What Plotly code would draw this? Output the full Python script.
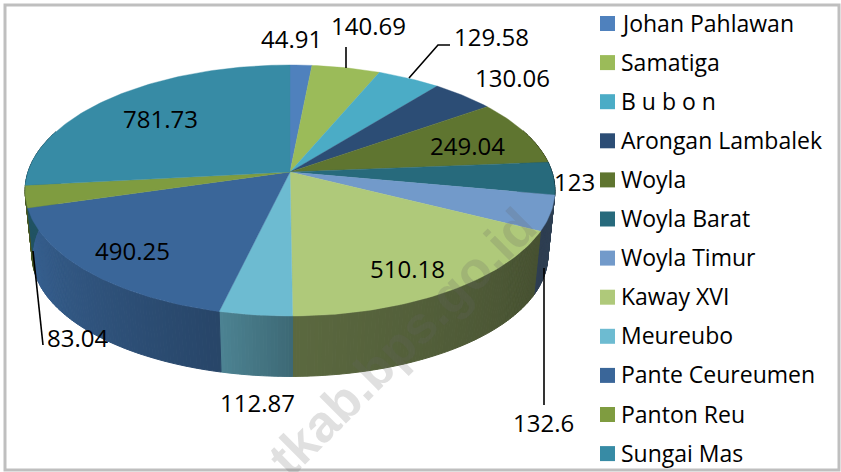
import math
import plotly.graph_objects as go

categories = ["Johan Pahlawan", "Samatiga", "B u b o n", "Arongan Lambalek", "Woyla", "Woyla Barat",
              "Woyla Timur", "Kaway XVI", "Meureubo", "Pante Ceureumen", "Panton Reu", "Sungai Mas"]
values = [44.91, 140.69, 129.58, 130.06, 249.04, 123, 132.6, 510.18, 112.87, 490.25, 83.04, 781.73]
value_labels = ["44.91", "140.69", "129.58", "130.06", "249.04", "123", "132.6", "510.18", "112.87", "490.25", "83.04", "781.73"]
colors = ["#4F81BD", "#9BBB59", "#4BACC6", "#2C4D75", "#5F7530", "#276A7C",
          "#729ACA", "#AFC97A", "#6DBBD1", "#3A6699", "#7F9C40", "#378BA5"]

# side-wall shading per slice: brightness factor at slice start and end (clockwise)
wall_shade = [(.5, .5), (.5, .5), (.5, .5), (.5, .5), (.5, .5), (.45, .45),
              (.42, .40), (.40, .52), (.56, .70), (.68, .95), (.55, .55), (.6, .6)]

FONT = "Open Sans"
CX = 290
TOP = dict(A=262, B=122.8, y0=172)
BOTTOM = dict(A=255, B=118, y0=238)
K = 0.1475


def ring(theta, r):
    s = 1 / (1 + K * math.cos(theta))
    return CX + r["A"] * math.sin(theta) * s, r["y0"] - r["B"] * math.cos(theta) * s


def scale(hex_color, f):
    c = [int(hex_color[i:i + 2], 16) for i in (1, 3, 5)]
    return "rgb(%d,%d,%d)" % tuple(round(v * f) for v in c)


total = sum(values)
fig = go.Figure()
spans = []
cum = 0.0
for v in values:
    spans.append((cum / total * 2 * math.pi, (cum + v) / total * 2 * math.pi))
    cum += v

# side walls, drawn as narrow bands so the shading can run along each slice
for (a0, a1), col, (f0, f1) in zip(spans, colors, wall_shade):
    bands = max(2, int((a1 - a0) / 0.012))
    for b in range(bands):
        t0 = a0 + (a1 - a0) * b / bands
        t1 = a0 + (a1 - a0) * (b + 1) / bands
        if math.cos((t0 + t1) / 2) > 0.35:
            continue  # hidden behind the top face
        steps = [t0, t1]
        pts = [ring(t, TOP) for t in steps] + [ring(t, BOTTOM) for t in reversed(steps)]
        c = scale(col, f0 + (f1 - f0) * (b + .5) / bands)
        fig.add_trace(go.Scatter(x=[p[0] for p in pts] + [pts[0][0]], y=[p[1] for p in pts] + [pts[0][1]],
                                 mode="lines", fill="toself", fillcolor=c, line=dict(color=c, width=1),
                                 hoverinfo="skip", showlegend=False))

# top faces
for (a0, a1), col, name in zip(spans, colors, categories):
    n = max(4, int((a1 - a0) / 0.02))
    pts = [(CX, TOP["y0"])] + [ring(a0 + (a1 - a0) * i / n, TOP) for i in range(n + 1)] + [(CX, TOP["y0"])]
    fig.add_trace(go.Scatter(x=[p[0] for p in pts], y=[p[1] for p in pts], mode="lines", fill="toself",
                             fillcolor=col, line=dict(color=col, width=0.4), name=name, showlegend=False))

label_pos = [(291, 38), (368, 25), (491, 36), (512, 77), (467, 145), (574, 181),
             (543, 422), (407, 268), (257, 402), (132, 250), (77, 337), (160, 118)]
annotations = [dict(x=x, y=y, text=t, showarrow=False, xref="x", yref="y", xanchor="center", yanchor="middle",
                    font=dict(family=FONT, size=24, color="#000000"))
               for t, (x, y) in zip(value_labels, label_pos)]

# legend: swatch markers with text beside them
LEG_X, LEG_TEXT_X, LEG_Y0, LEG_DY = 607.5, 619, 23.5, 39.1
for i, (name, col) in enumerate(zip(categories, colors)):
    fig.add_trace(go.Scatter(x=[LEG_X], y=[LEG_Y0 + i * LEG_DY], mode="markers", name=name, showlegend=False,
                             marker=dict(symbol="square", size=15, color=col, line=dict(width=0))))
    annotations.append(dict(x=LEG_TEXT_X, y=LEG_Y0 + i * LEG_DY - 1, text=name, showarrow=False, xref="x", yref="y",
                            xanchor="left", yanchor="middle", font=dict(family=FONT, size=23, color="#000000")))

annotations.append(dict(x=402, y=342, text="<b>tkab.bps.go.id</b>", textangle=-45, showarrow=False, xref="x", yref="y",
                        font=dict(family="Liberation Sans", size=52, color="rgba(100,100,100,0.2)")))

leaders = [[(346, 47), (346, 68)], [(409, 78), (438, 45), (450, 45)], [(33, 251), (43, 345)], [(544, 268), (544, 405)]]
shapes = [dict(type="path", xref="x", yref="y", line=dict(color="#000000", width=1.6),
               path="M " + " L ".join(f"{x},{y}" for x, y in seg)) for seg in leaders]
shapes.append(dict(type="rect", xref="x", yref="y", x0=5, y0=5, x1=839, y1=470, layer="below",
                   line=dict(color="#BFBFBF", width=3), fillcolor="#FFFFFF"))

fig.update_layout(
    width=841, height=472, margin=dict(l=0, r=0, t=0, b=0), paper_bgcolor="#FFFFFF", plot_bgcolor="#FFFFFF",
    xaxis=dict(range=[0, 841], visible=False, fixedrange=True),
    yaxis=dict(range=[472, 0], visible=False, fixedrange=True),
    shapes=shapes, annotations=annotations, showlegend=False,
)
fig.write_html("out.html", config={"displayModeBar": False},
               post_script="document.body.style.margin='0';document.body.style.overflow='hidden';")
